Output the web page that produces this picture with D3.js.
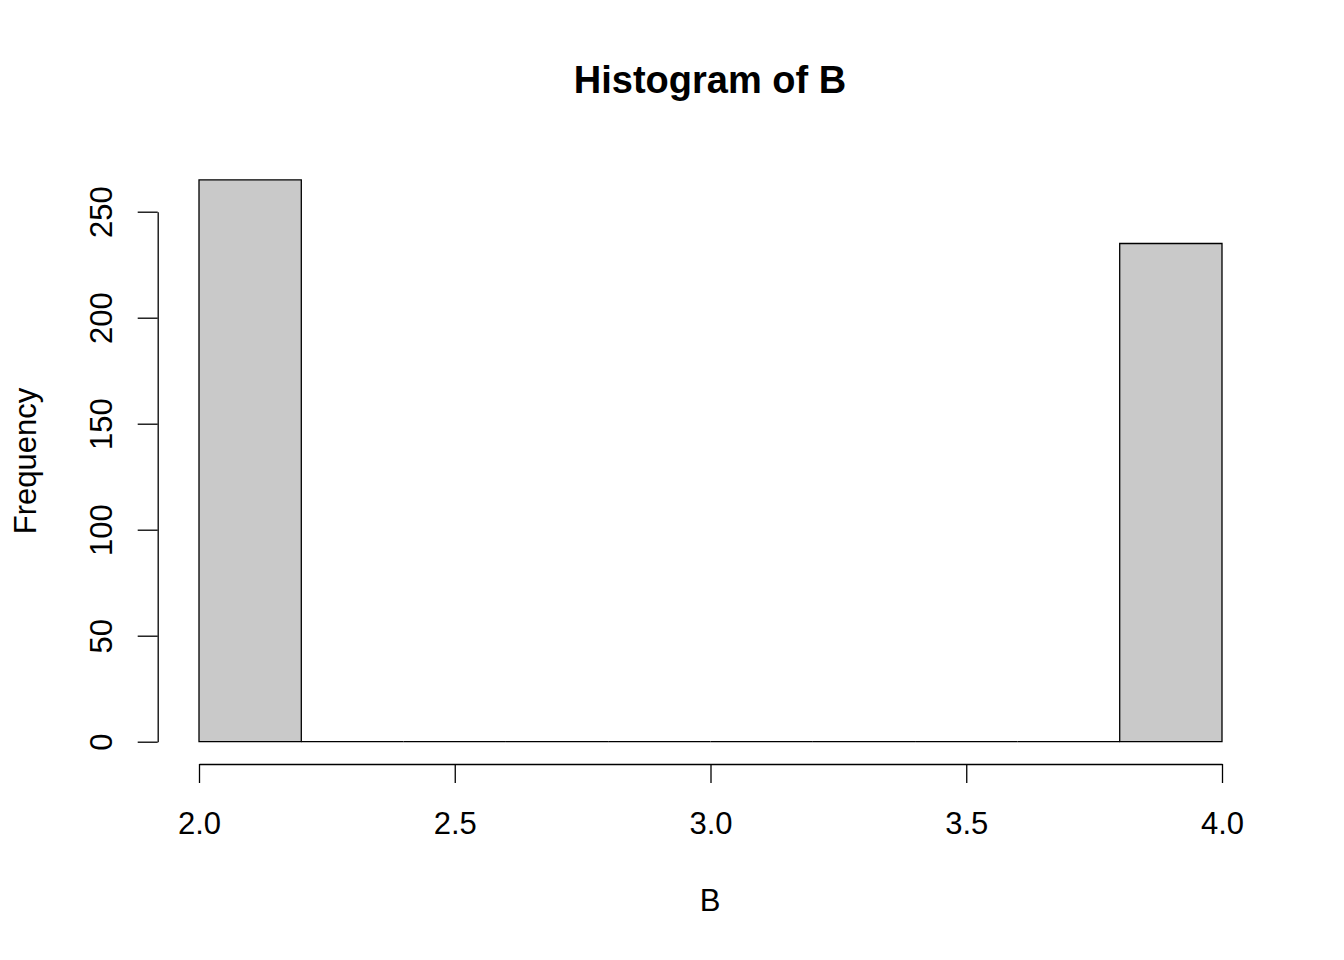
<!DOCTYPE html>
<meta charset="utf-8">
<script src="https://d3js.org/d3.v7.min.js"></script>
<body style="margin:0;background:#fff">
<div id="chart"></div>
</body>
<script>
    // histogram bins of B
    const binEdges = [2.0, 2.2, 2.4, 2.6, 2.8, 3.0, 3.2, 3.4, 3.6, 3.8, 4.0];
    const binCounts = [265, 0, 0, 0, 0, 0, 0, 0, 0, 235];
    const xTicks = [2.0, 2.5, 3.0, 3.5, 4.0];
    const yTicks = [0, 50, 100, 150, 200, 250];

    const W = 1344, H = 960;
    const FONT = "'Liberation Sans', Arial, Helvetica, sans-serif";

    const svg = d3.select("#chart").append("svg")
        .attr("width", W)
        .attr("height", H)
        .style("font-family", FONT);

    const x = d3.scaleLinear().domain([2, 4]).range([199, 1222]);
    const y = d3.scaleLinear().domain([0, 250]).range([741.7, 211.7]);

    const bins = binCounts.map((c, i) => ({x0: binEdges[i], x1: binEdges[i + 1], count: c}));

    // bars (paths so that empty bins still draw as a line on the baseline)
    svg.append("g").selectAll("path")
        .data(bins)
        .enter()
        .append("path")
        .attr("d", d => "M" + x(d.x0) + "," + y(0) + "H" + x(d.x1) + "V" + y(d.count) + "H" + x(d.x0) + "Z")
        .attr("fill", "#c9c9c9")
        .attr("stroke", "#000")
        .attr("stroke-width", 1.3);

    // x axis
    const gx = svg.append("g")
        .attr("transform", "translate(0,764)")
        .call(d3.axisBottom(x).tickValues(xTicks).tickSizeInner(19).tickSizeOuter(0).tickFormat(d3.format(".1f")));
    gx.select(".domain").attr("stroke-width", 1.3);
    gx.selectAll(".tick line").attr("stroke-width", 1.3);
    gx.selectAll("text")
        .attr("y", 70)
        .attr("dy", null)
        .style("font-size", "31px")
        .style("font-family", FONT);

    // y axis
    const gy = svg.append("g")
        .attr("transform", "translate(157.7,0)")
        .call(d3.axisLeft(y).tickValues(yTicks).tickSizeInner(20).tickSizeOuter(0));
    gy.select(".domain").attr("stroke-width", 1.3);
    gy.selectAll(".tick line").attr("stroke-width", 1.3);
    gy.selectAll("text")
        .attr("x", null)
        .attr("dy", null)
        .attr("transform", "translate(-46,0) rotate(-90)")
        .attr("text-anchor", "middle")
        .style("font-size", "31px")
        .style("font-family", FONT);

    // titles
    svg.append("text")
        .attr("x", 710)
        .attr("y", 93)
        .attr("text-anchor", "middle")
        .style("font-size", "38px")
        .style("font-weight", "bold")
        .text("Histogram of B");

    svg.append("text")
        .attr("x", 710)
        .attr("y", 911)
        .attr("text-anchor", "middle")
        .style("font-size", "31px")
        .text("B");

    svg.append("text")
        .attr("transform", "translate(36,461) rotate(-90)")
        .attr("text-anchor", "middle")
        .style("font-size", "31px")
        .text("Frequency");
</script>
